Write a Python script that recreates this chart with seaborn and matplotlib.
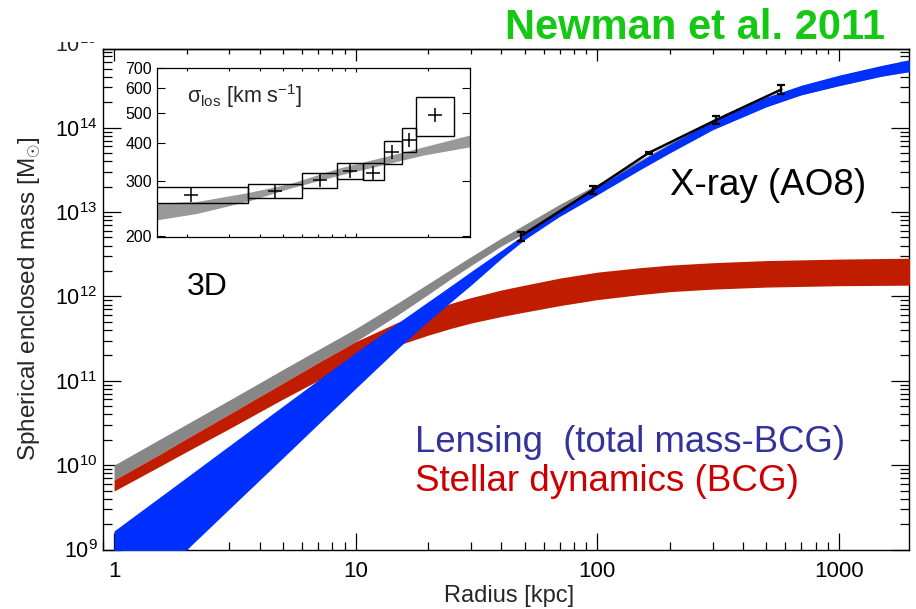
import matplotlib
matplotlib.use("Agg")
import numpy as np
import pandas as pd
import matplotlib.pyplot as plt
import seaborn as sns
from matplotlib.patches import Rectangle
from matplotlib.transforms import Bbox, TransformedBbox
from matplotlib.ticker import (LogLocator, NullLocator, FixedLocator,
                               FixedFormatter, NullFormatter, LogFormatterMathtext)

# ---------------- data ----------------
# enclosed-mass bands, radius in kpc, mass in solar masses
band_r = [1, 1.5, 2, 3, 5, 7, 10, 15, 20, 25, 30, 40, 50, 70, 100, 150, 200, 300, 500,
          700, 1000, 1500, 2000]

total_hi = [1.00e10, 1.93e10, 3.07e10, 5.90e10, 1.36e11, 2.34e11, 4.15e11, 8.44e11, 1.42e12,
            2.13e12, 2.96e12, 4.91e12, 7.09e12, 1.24e13, 2.14e13, 4.12e13, 6.55e13, 1.18e14,
            2.27e14, 3.15e14, 4.13e14, 5.40e14, 6.40e14]
total_lo = [6.66e9, 1.28e10, 2.07e10, 4.03e10, 9.39e10, 1.64e11, 2.91e11, 6.09e11, 1.06e12,
            1.65e12, 2.32e12, 3.94e12, 5.62e12, 8.94e12, 1.61e13, 3.18e13, 5.06e13, 9.47e13,
            1.77e14, 2.46e14, 3.15e14, 4.08e14, 4.67e14]

lens_hi = [1.66e9, 3.91e9, 7.19e9, 1.70e10, 5.01e10, 1.02e11, 2.16e11, 4.89e11, 8.70e11,
           1.36e12, 1.97e12, 3.49e12, 5.47e12, 1.04e13, 1.97e13, 3.96e13, 6.38e13, 1.19e14,
           2.30e14, 3.19e14, 4.19e14, 5.47e14, 6.48e14]
lens_lo = [1.51e8, 4.57e8, 1.00e9, 3.03e9, 1.22e10, 3.07e10, 8.13e10, 2.44e11, 5.10e11,
           8.79e11, 1.36e12, 2.81e12, 4.71e12, 8.94e12, 1.61e13, 3.18e13, 5.06e13, 9.47e13,
           1.77e14, 2.46e14, 3.15e14, 4.08e14, 4.67e14]

star_r = [1, 1.5, 2, 3, 5, 7, 10, 15, 20, 25, 30, 40, 50, 70, 100, 150, 200, 300, 500,
          1000, 2000]
star_hi = [6.66e9, 1.28e10, 2.07e10, 4.03e10, 9.39e10, 1.64e11, 2.91e11, 4.96e11, 6.70e11,
           8.33e11, 9.68e11, 1.19e12, 1.36e12, 1.65e12, 1.94e12, 2.19e12, 2.35e12, 2.51e12,
           2.66e12, 2.77e12, 2.84e12]
star_lo = [4.93e9, 9.24e9, 1.45e10, 2.71e10, 6.07e10, 1.01e11, 1.64e11, 2.65e11, 3.48e11,
           4.21e11, 4.83e11, 5.77e11, 6.52e11, 7.78e11, 9.16e11, 1.05e12, 1.14e12, 1.22e12,
           1.29e12, 1.34e12, 1.36e12]

# X-ray hydrostatic masses
xray_r = [48.2, 95.7, 163, 309, 578]
xray_m = [5.17e12, 1.82e13, 5.02e13, 1.23e14, 2.84e14]
xray_lo = [4.57e12, 1.64e13, 4.88e13, 1.11e14, 2.50e14]
xray_hi = [5.85e12, 2.02e13, 5.16e13, 1.36e14, 3.23e14]

# BCG velocity dispersion profile (inset)
sig_bin_lo = [1.2, 3.60, 5.97, 8.39, 10.67, 13.08, 15.5, 17.7]
sig_bin_hi = [3.60, 5.97, 8.39, 10.67, 13.08, 15.5, 17.7, 25.5]
sig_r = [2.09, 4.63, 7.1, 9.44, 11.8, 14.1, 16.6, 21.3]
sig_val = [270, 280, 303, 325, 320, 372, 409, 492]
sig_lo = [256, 264, 286, 304.6, 302, 340.6, 372, 420]
sig_hi = [287, 295, 320, 345, 345, 404, 446, 562]

model_r = [1.5, 2.2, 3.6, 5.35, 8.4, 13.1, 19.1, 29.7]
model_lo = [225, 236, 259, 285, 313, 340, 365, 388]
model_hi = [255, 258, 276, 295, 330, 360, 388, 424]

y_major = [1e9, 1e10, 1e11, 1e12, 1e13, 1e14]
x_major = [1, 10, 100, 1000]
x_major_labels = ["1", "10", "100", "1000"]
inset_y_ticks = [200, 300, 400, 500, 600, 700]
inset_y_labels = ["200", "300", "400", "500", "600", "700"]

# ---------------- style ----------------
sns.set_theme(style="ticks")
plt.rcParams["font.family"] = ["Liberation Sans", "DejaVu Sans"]
plt.rcParams["mathtext.fontset"] = "custom"
plt.rcParams["mathtext.rm"] = "Liberation Sans"
plt.rcParams["mathtext.it"] = "Liberation Sans:italic"
plt.rcParams["mathtext.bf"] = "Liberation Sans:bold"
plt.rcParams["axes.linewidth"] = 1.0
plt.rcParams["axes.edgecolor"] = "black"

GREY = "#878787"
RED = "#c01c00"
BLUE = "#0030ff"

W, H = 916, 609
fig = plt.figure(figsize=(W / 100, H / 100), dpi=100)
ax = fig.add_axes([103 / W, 1 - 549.5 / H, (909 - 103) / W, (549.5 - 49.3) / H])
ax.set_xscale("log")
ax.set_yscale("log")
ax.set_xlim(0.9, 1950)
ax.set_ylim(1e9, 8.5e14)

ax.fill_between(band_r, total_lo, total_hi, color=GREY, lw=0, zorder=2)
ax.fill_between(star_r, star_lo, star_hi, color=RED, lw=0, zorder=3)
ax.fill_between(band_r, lens_lo, lens_hi, color=BLUE, lw=0, zorder=4)

xdf = pd.DataFrame({"r": xray_r, "m": xray_m})
sns.lineplot(data=xdf, x="r", y="m", color="black", lw=1.8, ax=ax, zorder=6)
xm = np.array(xray_m)
ax.errorbar(xray_r, xray_m, yerr=[xm - np.array(xray_lo), np.array(xray_hi) - xm],
            fmt="none", ecolor="black", elinewidth=1.6, capsize=3, capthick=1.6, zorder=7)
ax.set_xlabel("")
ax.set_ylabel("")

# ticks
ax.xaxis.set_major_locator(FixedLocator(x_major))
ax.xaxis.set_major_formatter(FixedFormatter(x_major_labels))
ax.xaxis.set_minor_locator(LogLocator(base=10, subs=np.arange(2, 10), numticks=20))
ax.xaxis.set_minor_formatter(NullFormatter())
ax.yaxis.set_major_locator(FixedLocator(y_major))
ax.yaxis.set_major_formatter(LogFormatterMathtext())
ax.yaxis.set_minor_locator(LogLocator(base=10, subs=np.arange(2, 10), numticks=20))
ax.yaxis.set_minor_formatter(NullFormatter())
ax.tick_params(axis="both", which="both", direction="in", colors="black", width=0.9)
ax.tick_params(axis="y", which="major", length=12.7, labelsize=15.5, pad=4, left=True, right=True)
ax.tick_params(axis="y", which="minor", length=6.5, left=True, right=True)
ax.tick_params(axis="x", which="major", length=12.2, labelsize=16, pad=8, top=False, bottom=True)
ax.tick_params(axis="x", which="minor", length=5.8, top=False, bottom=True)

top = ax.secondary_xaxis("top")
top.xaxis.set_major_locator(FixedLocator(x_major))
top.xaxis.set_minor_locator(LogLocator(base=10, subs=np.arange(2, 10), numticks=20))
top.xaxis.set_major_formatter(NullFormatter())
top.xaxis.set_minor_formatter(NullFormatter())
top.tick_params(axis="x", which="major", direction="in", length=8.6, width=0.9, colors="black")
top.tick_params(axis="x", which="minor", direction="in", length=3.8, width=0.9, colors="black")

# the 10^15 label sits just above the frame and is cut by the heading strip
lab15 = fig.text(97.5 / W, 1 - 43.1 / H, r"$10^{15}$", fontsize=15.5, ha="right",
                 va="center_baseline")
lab15.set_clip_box(TransformedBbox(Bbox([[0.0, 1 - 53 / H], [0.2, 1 - 41.5 / H]]),
                                   fig.transFigure))
lab15.set_clip_on(True)

fig.text(509 / W, 1 - 596 / H, "Radius [kpc]", ha="center", va="center", fontsize=17)
fig.text(30 / W, 1 - 299 / H, r"Spherical enclosed mass [M$_{\odot}$]", rotation=90,
         ha="center", va="center", fontsize=17.5)

# annotations
fig.text(505 / W, 1 - 39.3 / H, "Newman et al. 2011", color="#14c814", fontsize=30,
         fontweight="bold", ha="left", va="baseline")
fig.text(670 / W, 1 - 195 / H, "X-ray (AO8)", color="black", fontsize=26.5,
         ha="left", va="baseline")
fig.text(187 / W, 1 - 295 / H, "3D", color="black", fontsize=23, ha="left", va="baseline")
fig.text(415 / W, 1 - 452.3 / H, "Lensing  (total mass-BCG)", color="#333399", fontsize=26.3,
         ha="left", va="baseline")
fig.text(415 / W, 1 - 491 / H, "Stellar dynamics (BCG)", color="#cc0000", fontsize=26.5,
         ha="left", va="baseline")

# ---------------- inset: velocity dispersion ----------------
ins = fig.add_axes([157 / W, 1 - 237 / H, (470 - 157) / W, (237 - 67.7) / H])
ins.set_xscale("log")
ins.set_yscale("log")
ins.set_xlim(1.506, 29.7)
ins.set_ylim(198, 700)
ins.set_facecolor("white")
ins.fill_between(model_r, model_lo, model_hi, color="#999999", lw=0, zorder=2)
for x0, x1, lo, hi in zip(sig_bin_lo, sig_bin_hi, sig_lo, sig_hi):
    ins.add_patch(Rectangle((x0, lo), x1 - x0, hi - lo, fill=False, edgecolor="black",
                            lw=1.0, zorder=3))
sdf = pd.DataFrame({"r": sig_r, "s": sig_val})
sns.scatterplot(data=sdf, x="r", y="s", marker="+", s=110, color="black", linewidth=1.1,
                ax=ins, zorder=4)
ins.set_xlabel("")
ins.set_ylabel("")
for sp in ins.spines.values():
    sp.set_linewidth(0.9)
ins.xaxis.set_major_locator(FixedLocator([10]))
ins.xaxis.set_minor_locator(FixedLocator([2, 3, 4, 5, 6, 7, 8, 9, 20]))
ins.xaxis.set_major_formatter(NullFormatter())
ins.xaxis.set_minor_formatter(NullFormatter())
ins.yaxis.set_major_locator(FixedLocator(inset_y_ticks))
ins.yaxis.set_major_formatter(FixedFormatter(inset_y_labels))
ins.yaxis.set_minor_locator(NullLocator())
ins.tick_params(axis="both", which="both", direction="in", colors="black", width=0.8)
ins.tick_params(axis="x", which="major", length=3.2, top=True, bottom=True)
ins.tick_params(axis="x", which="minor", length=2.3, top=True, bottom=True)
ins.tick_params(axis="y", which="major", length=5.5, left=True, right=True,
                labelsize=11.5, pad=3.5)
ins.text(0.095, 0.83, r"$\mathrm{σ}_{\rm los}$ [km s$^{\mathrm{-1}}$]", transform=ins.transAxes,
         fontsize=15.5, ha="left", va="center")

fig.savefig("out.png", dpi=100)
